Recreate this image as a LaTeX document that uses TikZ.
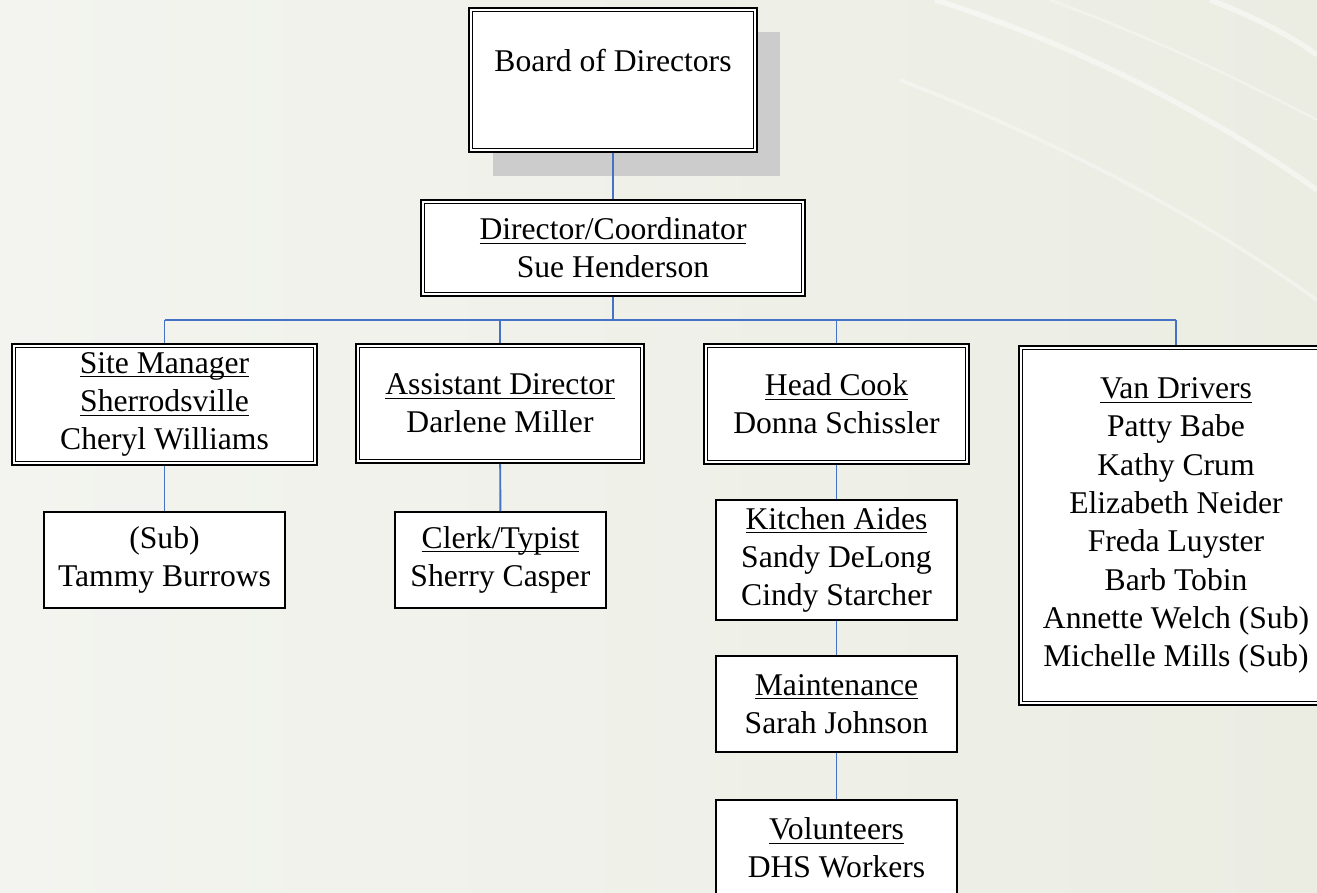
\documentclass[tikz,border=0pt]{standalone}
\usepackage{fontspec}
\setmainfont{Liberation Serif}
\usetikzlibrary{shadows,calc}
\definecolor{linkblue}{RGB}{68,114,196}
\definecolor{paperl}{RGB}{243,244,239}
\definecolor{paperr}{RGB}{235,237,227}
\newcommand{\role}[1]{\setbox0\hbox{#1}\rlap{\rule[-2.3pt]{\wd0}{0.55pt}}\box0}

\begin{document}
\begin{tikzpicture}[x=0.02cm,y=-0.02cm,
    box/.style={draw,line width=1pt,fill=white,inner sep=0pt,align=center,
      font=\fontsize{18}{21.8}\selectfont},
    dbox/.style={box,line width=1.1pt},
    link/.style={draw=linkblue,line width=1.1pt}]
  \clip (0,0) rectangle (1317,892);
  \shade[left color=paperl,right color=paperr] (0,0) rectangle (1317,892);
  \draw[white,opacity=.45,line width=3pt] (935,0) .. controls (1080,45) and (1220,120) .. (1317,190);
  \draw[white,opacity=.35,line width=2pt] (900,80) .. controls (1080,150) and (1220,230) .. (1317,300);
  \draw[white,opacity=.45,line width=3pt] (1210,0) .. controls (1250,15) and (1290,35) .. (1317,55);
  \draw[white,opacity=.3,line width=1.5pt] (1050,0) .. controls (1160,40) and (1260,90) .. (1317,120);

  \node[dbox,minimum width=5.76cm,minimum height=2.88cm,
    drop shadow={shadow xshift=0.47cm,shadow yshift=-0.48cm,fill=black!20,opacity=1}]
    (board) at (613,80) {Board of Directors\\\mbox{}};
  \node[dbox,minimum width=7.68cm,minimum height=1.92cm] (dir) at (613,248)
    {\role{Director/Coordinator}\\Sue Henderson};

  \node[dbox,minimum width=6.1cm,minimum height=2.42cm] (site) at (164.5,404.5)
    {\role{Site Manager}\\\role{Sherrodsville}\\Cheryl Williams};
  \node[dbox,minimum width=5.76cm,minimum height=2.38cm] (asst) at (500,403.5)
    {\role{Assistant Director}\\Darlene Miller};
  \node[dbox,minimum width=5.3cm,minimum height=2.4cm] (cook) at (836.5,404)
    {\role{Head Cook}\\Donna Schissler};
  \node[dbox,minimum width=6.28cm,minimum height=7.18cm] (van) at (1176,525.5)
    {\role{Van Drivers}\\Patty Babe\\Kathy Crum\\Elizabeth Neider\\Freda Luyster\\Barb Tobin\\
     Annette Welch (Sub)\\Michelle Mills (Sub)};

  \node[box,minimum width=4.82cm,minimum height=1.92cm] (sub) at (164.5,560)
    {(Sub)\\Tammy Burrows};
  \node[box,minimum width=4.22cm,minimum height=1.92cm] (clerk) at (500.5,560)
    {\role{Clerk/Typist}\\Sherry Casper};
  \node[box,minimum width=4.82cm,minimum height=2.4cm] (aides) at (836.5,560)
    {\role{Kitchen Aides}\\Sandy DeLong\\Cindy Starcher};
  \node[box,minimum width=4.82cm,minimum height=1.92cm] (maint) at (836.5,704)
    {\role{Maintenance}\\Sarah Johnson};
  \node[box,minimum width=4.82cm,minimum height=1.92cm] (vol) at (836.5,848)
    {\role{Volunteers}\\DHS Workers};

  \foreach \n in {board,dir,site,asst,cook,van}
    \draw[line width=0.6pt] ([shift={(2.6pt,2.6pt)}]\n.south west) rectangle ([shift={(-2.6pt,-2.6pt)}]\n.north east);

  \coordinate (busl) at (164.5,320);
  \coordinate (busr) at (1176,320);
  \draw[link] (board) -- (dir);
  \draw[link] (dir.south) -- (dir.south |- busl);
  \draw[link] (busl) -- (busr);
  \foreach \n in {site,asst,cook,van}
    \draw[link] (\n.north |- busl) -- (\n.north);
  \draw[link] (site) -- (sub);
  \draw[link] (asst) -- (clerk);
  \draw[link] (cook) -- (aides);
  \draw[link] (aides) -- (maint);
  \draw[link] (maint) -- (vol);
\end{tikzpicture}
\end{document}
